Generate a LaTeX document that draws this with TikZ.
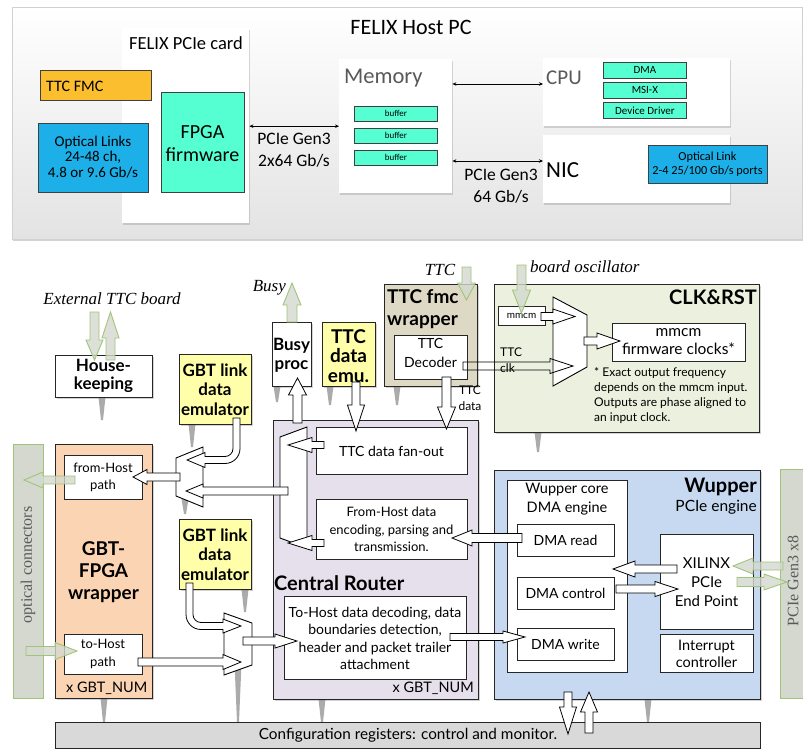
\documentclass[tikz,border=0pt]{standalone}
\usepackage{fontspec}
\setmainfont{Carlito}
\newfontfamily\gillfont{Lato}
\newfontfamily\serifit{Liberation Serif}
\usetikzlibrary{shadows,calc,arrows.meta}

\definecolor{ttcorange}{RGB}{251,190,46}
\definecolor{linkblue}{RGB}{29,176,232}
\definecolor{fwteal}{RGB}{85,255,210}
\definecolor{peach}{RGB}{251,212,180}
\definecolor{emuyellow}{RGB}{255,255,170}
\definecolor{fmctan}{RGB}{221,217,196}
\definecolor{clkgreen}{RGB}{235,241,222}
\definecolor{routerlav}{RGB}{229,224,236}
\definecolor{wupblue}{RGB}{198,217,241}
\definecolor{cfggray}{RGB}{217,217,217}
\definecolor{connfill}{RGB}{212,216,207}
\definecolor{conngreen}{RGB}{160,196,120}
\definecolor{labelgray}{RGB}{89,89,89}

\newcommand{\fsz}[2]{\fontsize{#1}{#2}\selectfont}

% block arrow: [style]{from}{to}{shaft half width}{head half width}{head length}
\newcommand{\harrow}[6][hollow]{%
  \draw[#1] let \p1=(#2), \p2=(#3),
    \n1={atan2(\y2-\y1,\x2-\x1)}, \n2={veclen(\x2-\x1,\y2-\y1)} in
    [shift={(\p1)}, rotate=\n1]
    (0pt,-#4pt) -- ({\n2-#6pt},-#4pt) -- ({\n2-#6pt},-#5pt) -- (\n2,0pt)
    -- ({\n2-#6pt},#5pt) -- ({\n2-#6pt},#4pt) -- (0pt,#4pt) -- cycle;}

% tapering grey support under a block: {x}{top y}{bottom y}
\newcommand{\stalk}[3]{\fill[stalk] (#1-3.5,#2) -- (#1+3.5,#2) -- (#1+1,#3) -- (#1-1,#3) -- cycle;}

\begin{document}
\begin{tikzpicture}[x=1pt, y=-1pt,
  every node/.style={inner sep=0pt, align=center},
  hbox/.style={anchor=north west, fill=white, drop shadow={shadow xshift=1pt, shadow yshift=-1.5pt, opacity=0.3}},
  tbox/.style={anchor=north west, draw=black!75, line width=0.8pt},
  lbox/.style={anchor=north west, draw=black!85, line width=1pt, drop shadow={shadow xshift=1.5pt, shadow yshift=-1.5pt, opacity=0.35}},
  ibox/.style={anchor=north west, draw=black!85, line width=0.9pt, fill=white},
  hostlink/.style={<->, >={Stealth[length=4pt, width=3.5pt]}, line width=0.7pt},
  hollow/.style={draw=black, line width=0.8pt, fill=white},
  openarrow/.style={draw=black, line width=0.8pt},
  garrow/.style={draw=conngreen, line width=0.9pt, fill=connfill, fill opacity=0.8},
  mux/.style={draw=black, line width=0.9pt, fill=white},
  stalk/.style={fill=black!33},
]
\useasboundingbox (0,0) rectangle (803,749);

% ---------------- host PC overview ----------------
\node[anchor=north west, minimum width=790, minimum height=232, top color=white, bottom color=black!11,
      draw=black!18, line width=0.6pt, drop shadow={shadow xshift=1pt, shadow yshift=-2pt, opacity=0.35}] (host) at (12,7) {};
\node[font=\fsz{22}{26}] (hosttitle) at (411,27) {FELIX Host PC};

\node[hbox, minimum width=127, minimum height=195] (card) at (122,28) {};
\node[font=\fsz{18.5}{20}] (cardtitle) at (186,43) {FELIX PCIe card};
\node[tbox, fill=ttcorange, minimum width=111, minimum height=30] (ttcfmcbox) at (40,70) {};
\node[anchor=west, font=\fsz{16}{18}] (ttcfmctext) at (46,86) {TTC FMC};
\node[tbox, fill=linkblue, minimum width=110, minimum height=69] (links) at (38,123) {};
\node[font=\fsz{15}{15.3}] (linkstext) at (93,157) {Optical Links\\24-48 ch,\\4.8 or 9.6 Gb/s};
\node[tbox, fill=fwteal, minimum width=83, minimum height=100] (fpga) at (161,92) {};
\node[font=\fsz{20}{23}] (fpgatext) at (202.5,143.5) {FPGA\\firmware};

\node[hbox, minimum width=113, minimum height=134] (mem) at (339,59) {};
\node[anchor=west, font=\fsz{22.5}{25}, text=labelgray] (memtitle) at (344,78) {Memory};
\node[tbox, fill=fwteal, minimum width=83, minimum height=15, font=\fsz{9}{10}] (buf1) at (354,106) {buffer};
\node[tbox, fill=fwteal, minimum width=83, minimum height=15, font=\fsz{9}{10}] (buf2) at (354,128) {buffer};
\node[tbox, fill=fwteal, minimum width=83, minimum height=15, font=\fsz{9}{10}] (buf3) at (354,150) {buffer};

\node[hbox, minimum width=187, minimum height=68] (cpu) at (543,58) {};
\node[anchor=west, font=\fsz{21}{24}, text=labelgray] (cputitle) at (546,78) {CPU};
\node[tbox, fill=fwteal, minimum width=83, minimum height=16, font=\fsz{11}{12}] (dma) at (603,62) {DMA};
\node[tbox, fill=fwteal, minimum width=83, minimum height=16, font=\fsz{11}{12}] (msix) at (603,82) {MSI-X};
\node[tbox, fill=fwteal, minimum width=83, minimum height=16, font=\fsz{11}{12}] (drv) at (603,102) {Device Driver};

\node[hbox, minimum width=187, minimum height=68] (nic) at (543,135) {};
\node[anchor=west, font=\fsz{23}{26}] (nictitle) at (546,170) {NIC};
\node[tbox, fill=linkblue, minimum width=119, minimum height=38] (nicopt) at (648,145) {};
\node[font=\fsz{12.3}{13.5}] (nicopttext) at (707.5,164) {Optical Link\\2-4 25/100 Gb/s ports};

\draw[hostlink] (card.east |- mem.west) -- (mem.west);
\draw[hostlink] ($(mem.north east)+(0,25)$) -- ($(cpu.north west)+(0,26)$);
\draw[hostlink] ($(mem.north east)+(0,102)$) -- ($(nic.north west)+(0,26)$);
\node[font=\fsz{17.5}{22}] (pcie1) at (294,150) {PCIe Gen3\\2x64 Gb/s};
\node[font=\fsz{17.5}{22}] (pcie2) at (501,186) {PCIe Gen3\\64 Gb/s};

% ---------------- firmware block diagram ----------------
% grey supports
\stalk{102}{397}{420}
\stalk{192}{424}{447}
\stalk{277}{386}{402}
\stalk{330}{386}{405}
\stalk{397}{386}{405}
\stalk{538}{432}{452}
\stalk{185}{499}{514}
\stalk{245}{589}{612}
\stalk{238}{663}{722}
\stalk{104}{698}{722}
\stalk{322}{699}{722}
\stalk{648}{699}{722}

% connector strips
\node[anchor=north west, fill=connfill, draw=conngreen, line width=0.9pt, minimum width=30, minimum height=254] (optconn) at (13,444) {};
\node[anchor=north west, fill=connfill, draw=conngreen, line width=0.9pt, minimum width=30, minimum height=229] (pciebar) at (780,469) {};

% main blocks
\node[lbox, fill=peach, minimum width=97, minimum height=254] (gbtfpga) at (55,444) {};
\node[lbox, fill=routerlav, minimum width=205, minimum height=279] (router) at (273,420) {};
\node[lbox, fill=clkgreen, minimum width=265, minimum height=148] (clkrst) at (494,284) {};
\node[lbox, fill=wupblue, minimum width=266, minimum height=229] (wupper) at (494,470) {};
\node[lbox, fill=fmctan, minimum width=93, minimum height=102] (fmcwrap) at (384,284) {};
\node[lbox, fill=white, minimum width=39, minimum height=64] (busy) at (272,322) {};
\node[lbox, fill=emuyellow, minimum width=53, minimum height=64] (ttcemu) at (322,322) {};
\node[lbox, fill=white, minimum width=97, minimum height=42] (hk) at (55,355) {};
\node[lbox, fill=emuyellow, minimum width=72, minimum height=70] (emu1) at (179,354) {};
\node[lbox, fill=emuyellow, minimum width=72, minimum height=70] (emu2) at (179,519) {};
\node[anchor=north west, fill=cfggray, draw=black!85, line width=1pt, minimum width=705, minimum height=26] (config) at (55,722) {};

% inner blocks
\node[ibox, minimum width=73, minimum height=44] (dec) at (394,335) {};
\node[ibox, minimum width=47, minimum height=19] (mmcm) at (498,306) {};
\node[ibox, minimum width=133, minimum height=38] (fwclk) at (612,323) {};
\node[ibox, minimum width=151, minimum height=47] (fanout) at (316,427) {};
\node[ibox, minimum width=151, minimum height=60] (fhdata) at (316,499) {};
\node[ibox, minimum width=182, minimum height=83] (thdata) at (284,596) {};
\node[ibox, minimum width=78, minimum height=44] (fhpath) at (64,455) {};
\node[ibox, minimum width=78, minimum height=40] (thpath) at (64,634) {};
\node[ibox, minimum width=120, minimum height=192] (dmaeng) at (507,480) {};
\node[ibox, minimum width=97, minimum height=32] (dmaread) at (517,524) {};
\node[ibox, minimum width=97, minimum height=32] (dmactrl) at (517,577) {};
\node[ibox, minimum width=97, minimum height=32] (dmawrite) at (517,628) {};
\node[ibox, minimum width=93, minimum height=95] (xilinx) at (660,534) {};
\node[ibox, minimum width=93, minimum height=38] (intr) at (660,634) {};

% multiplexers
\draw[mux] (176,458) -- (203,447) -- (203,507) -- (176,496) -- cycle;
\draw[mux] (280,437) -- (307,427) -- (307,548) -- (280,538) -- cycle;
\draw[mux] (224,613) -- (252,623) -- (252,665) -- (224,675) -- cycle;
\draw[mux] (553,297) -- (587,315) -- (587,367) -- (553,386) -- cycle;

% data paths
\harrow{297.5,423}{297.5,378}{4.5}{9}{17}
\harrow{356,382}{356,431}{4}{8.5}{26}
\harrow{446.5,377}{446.5,429}{4.5}{9}{22}
\harrow[openarrow]{463,366}{573,366}{4}{7.5}{23}
\harrow{541,316.5}{575,316.5}{4}{7.5}{22}
\harrow{584,341}{620,341}{4}{8}{23}
\harrow{324,445}{288,445}{3.5}{7.5}{24}
\harrow{324,543}{288,543}{3.5}{7.5}{24}
\harrow{288,491}{186,491}{4}{7}{17}
\harrow{180,477}{133,477}{4}{7.5}{14}
\harrow{522,538}{452,538}{4.5}{8}{20}
\harrow{450,637}{525,637}{3.5}{6}{22}
\harrow{243,641}{297,641}{4}{7}{22}
\harrow{138,662}{241,662}{4}{7.5}{18}
\harrow{677,569}{613,569}{4}{8}{22}
\harrow{616,589}{678,589}{4}{7.5}{23}
\harrow{568,692}{568,734}{4}{8.5}{27}
\harrow{589,733}{589,692}{4}{8.5}{20}
% emulator outputs bending into the multiplexers
\draw[hollow] (233,418) -- (240,418) -- (240,448.5) .. controls (240,456.8) and (233.3,463.5) .. (225,463.5)
  -- (205,463.5) -- (205,467.5) -- (187,460) -- (205,452.5) -- (205,456.5) -- (225,456.5)
  .. controls (229.4,456.5) and (233,452.9) .. (233,448.5) -- cycle;
\draw[hollow] (186,583) -- (193,583) -- (193,614.5) .. controls (193,618.9) and (196.6,622.5) .. (201,622.5)
  -- (223,622.5) -- (223,619) -- (241,626) -- (223,633) -- (223,629.5) -- (201,629.5)
  .. controls (192.7,629.5) and (186,622.8) .. (186,614.5) -- cycle;

% texts of the firmware blocks
\node[font=\gillfont\bfseries\fsz{17}{18}] (hktext) at (103.5,376) {House-\\keeping};
\node[font=\gillfont\bfseries\fsz{17}{19.5}] (emu1text) at (215,389.5) {GBT link\\data\\emulator};
\node[font=\gillfont\bfseries\fsz{17}{19.5}] (emu2text) at (215,554.5) {GBT link\\data\\emulator};
\node[font=\gillfont\bfseries\fsz{17}{19}] (busytext) at (291.5,355) {Busy\\proc};
\node[font=\gillfont\bfseries\fsz{19}{19.5}] (ttcemutext) at (348.5,356) {TTC\\data\\emu.};
\node[anchor=north west, align=left, font=\gillfont\bfseries\fsz{19}{22}] (fmctitle) at (387,289.5) {TTC fmc\\wrapper};
\node[font=\gillfont\fsz{14}{19}] (dectext) at (430.5,352.5) {TTC\\Decoder};
\node[anchor=east, font=\gillfont\bfseries\fsz{20}{22}] (clktitle) at (757,297) {CLK\&RST};
\node[font=\gillfont\fsz{10}{12}] (mmcmtext) at (521.5,315.5) {mmcm};
\node[font=\gillfont\fsz{15.5}{17.5}] (fwclktext) at (678.5,341.5) {mmcm\\firmware clocks*};
\node[anchor=north west, align=left, font=\gillfont\fsz{12}{15}] (clknote) at (594,367) {* Exact output frequency\\depends on the mmcm input.\\Outputs are phase aligned to\\an input clock.};
\node[anchor=west, font=\gillfont\fsz{12}{16}] (ttcclk1) at (500,352) {TTC};
\node[anchor=west, font=\gillfont\fsz{12}{16}] (ttcclk2) at (500,368) {clk};
\node[font=\gillfont\fsz{12}{16}] (ttcdata) at (470,398) {TTC\\data};
\node[font=\gillfont\fsz{14}{17}] (fanouttext) at (391.5,451.5) {TTC data fan-out};
\node[font=\gillfont\fsz{13}{17.5}] (fhdatatext) at (391.5,529.5) {From-Host data\\encoding, parsing and\\transmission.};
\node[anchor=west, font=\gillfont\bfseries\fsz{20}{22}] (routertitle) at (274,583) {Central Router};
\node[font=\gillfont\fsz{14}{17.5}] (thdatatext) at (375,638.5) {To-Host data decoding, data\\boundaries detection,\\header and packet trailer\\attachment};
\node[anchor=east, font=\gillfont\fsz{14.5}{16}] (routernum) at (474,688) {x GBT\_NUM};
\node[font=\gillfont\bfseries\fsz{19}{22}] (gbttitle) at (103.5,572) {GBT-\\FPGA\\wrapper};
\node[anchor=west, font=\gillfont\fsz{14.5}{16}] (gbtnum) at (66,688) {x GBT\_NUM};
\node[font=\gillfont\fsz{13}{17.5}] (fhpathtext) at (103,477.5) {from-Host\\path};
\node[font=\gillfont\fsz{13}{17.5}] (thpathtext) at (103,654) {to-Host\\path};
\node[anchor=east, font=\gillfont\bfseries\fsz{20}{22}] (wuptitle) at (757,487) {Wupper};
\node[anchor=east, font=\gillfont\fsz{15.5}{17}] (wupsub) at (757,507) {PCIe engine};
\node[font=\gillfont\fsz{14.5}{19}] (dmaengtext) at (567,499.5) {Wupper core\\DMA engine};
\node[font=\gillfont\fsz{14}{16}] (dmareadtext) at (565.5,540.5) {DMA read};
\node[font=\gillfont\fsz{14}{16}] (dmactrltext) at (565.5,593) {DMA control};
\node[font=\gillfont\fsz{14}{16}] (dmawritetext) at (565.5,644) {DMA write};
\node[font=\gillfont\fsz{15}{19}] (xilinxtext) at (706.5,582) {XILINX\\PCIe\\End Point};
\node[font=\gillfont\fsz{14.5}{17}] (intrtext) at (706.5,654) {Interrupt\\controller};
\node[font=\gillfont\fsz{15.3}{17}] (configtext) at (408,735.5) {Configuration registers: control and monitor.};

% external interfaces
\node[font=\serifit\itshape\fsz{17}{19}] (extttc) at (112,299) {External TTC board};
\node[anchor=east, font=\serifit\itshape\fsz{17}{19}] (busylabel) at (286,288) {Busy};
\node[font=\serifit\itshape\fsz{17}{19}] (ttclabel) at (440,270) {TTC};
\node[anchor=west, font=\serifit\itshape\fsz{17}{19}] (osclabel) at (530,267) {board oscillator};
\node[rotate=90, font=\serifit\fsz{16}{18}, text=labelgray] (optconntext) at (28,565) {optical connectors};
\node[rotate=90, font=\serifit\fsz{16}{18}, text=labelgray] (pcietext) at (793,581) {PCIe Gen3 x8};

\harrow[garrow]{94.5,312}{94.5,360}{4.5}{8.5}{20}
\harrow[garrow]{110.5,360}{110.5,312}{4.5}{8.5}{26}
\harrow[garrow]{292,322}{292,283}{5}{9}{22}
\harrow[garrow]{466.5,267}{466.5,300}{4.5}{9}{17}
\harrow[garrow]{521.5,265}{521.5,313}{4.5}{9}{23}
\harrow[garrow]{75,480}{24,480}{4}{8}{19}
\harrow[garrow]{26,651}{77,651}{4.5}{8.5}{22}
\harrow[garrow]{783,566}{733,566}{4}{8}{20}
\harrow[garrow]{737,582}{787,582}{4.5}{8}{23}
\end{tikzpicture}
\end{document}
